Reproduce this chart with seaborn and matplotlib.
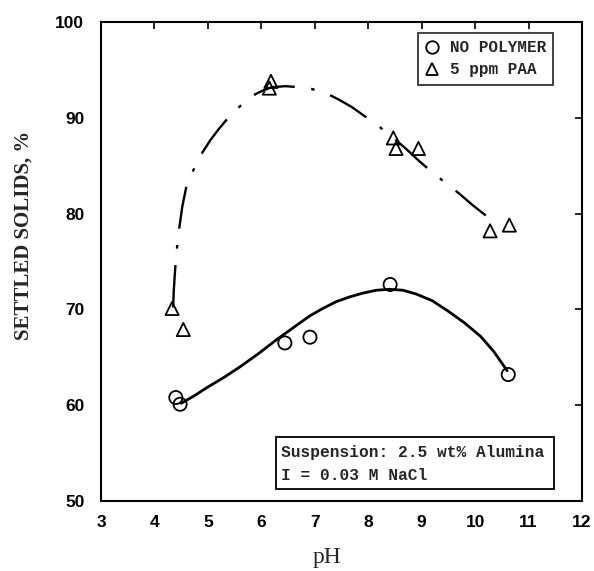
import numpy as np
import pandas as pd
import seaborn as sns
import matplotlib
matplotlib.use("Agg")
import matplotlib.pyplot as plt
from matplotlib.lines import Line2D
from matplotlib.patches import Rectangle

# --- data ---
ph_nopoly = [4.40, 4.48, 6.44, 6.91, 8.41, 10.62]
ss_nopoly = [60.8, 60.1, 66.5, 67.1, 72.6, 63.2]

ph_paa = [4.33, 4.54, 6.15, 6.18, 8.47, 8.52, 8.94, 10.28, 10.64]
ss_paa = [70.1, 67.9, 93.1, 93.8, 87.9, 86.8, 86.8, 78.2, 78.8]

curve_nopoly_ph = [4.50, 4.75, 5.0, 5.3, 5.6, 5.95, 6.3, 6.6, 6.9, 7.15, 7.4, 7.65, 7.9,
                   8.15, 8.4, 8.65, 8.9, 9.2, 9.5, 9.8, 10.1, 10.35, 10.6]
curve_nopoly_ss = [60.2, 61.0, 61.9, 62.9, 64.0, 65.4, 66.9, 68.1, 69.3, 70.1, 70.8, 71.3, 71.7,
                   72.0, 72.1, 72.0, 71.6, 70.9, 69.8, 68.6, 67.2, 65.6, 63.6]

curve_paa_ph = [4.35, 4.36, 4.38, 4.41, 4.46, 4.52, 4.60, 4.75, 4.90, 5.05, 5.20, 5.35, 5.50,
                5.70, 5.90, 6.05, 6.20, 6.45, 6.70, 6.95, 7.20, 7.45, 7.70, 7.95, 8.20,
                8.45, 8.70, 8.95, 9.20, 9.45, 9.70, 9.95, 10.20]
curve_paa_ss = [70.2, 71.8, 73.6, 75.8, 78.3, 80.7, 82.9, 84.8, 86.4, 87.7, 88.8, 89.8, 90.7,
                91.7, 92.5, 92.9, 93.2, 93.3, 93.2, 93.0, 92.6, 91.9, 91.1, 90.1, 89.1,
                88.0, 86.8, 85.5, 84.3, 83.2, 82.1, 80.9, 79.8]

legend_labels = ["NO POLYMER", "5 ppm PAA"]
box_lines = ["Suspension: 2.5 wt% Alumina", "I = 0.03 M NaCl"]
x_ticks = [3, 4, 5, 6, 7, 8, 9, 10, 11, 12]
y_ticks = [50, 60, 70, 80, 90, 100]

sns.set_theme(style="white")
plt.rcParams['font.family'] = ['Liberation Sans', 'DejaVu Sans']

W, H = 594, 571
fig = plt.figure(figsize=(W / 100, H / 100), dpi=100)
ax = fig.add_axes([101 / W, 1 - 501 / H, 481 / W, 479 / H])

df_c1 = pd.DataFrame({"pH": curve_nopoly_ph, "ss": curve_nopoly_ss})
df_c2 = pd.DataFrame({"pH": curve_paa_ph, "ss": curve_paa_ss})
sns.lineplot(data=df_c1, x="pH", y="ss", ax=ax, color="black", lw=2.0,
             sort=False, estimator=None)
sns.lineplot(data=df_c2, x="pH", y="ss", ax=ax, color="black", lw=1.7,
             sort=False, estimator=None)
ax.lines[-1].set_dashes((18, 7, 1.5, 7))

df_p1 = pd.DataFrame({"pH": ph_nopoly, "ss": ss_nopoly})
df_p2 = pd.DataFrame({"pH": ph_paa, "ss": ss_paa})
sns.scatterplot(data=df_p1, x="pH", y="ss", ax=ax, marker="o", s=90,
                facecolor="none", edgecolor="black", linewidth=1.3, zorder=3)
sns.scatterplot(data=df_p2, x="pH", y="ss", ax=ax, marker="^", s=90,
                facecolor="none", edgecolor="black", linewidth=1.3, zorder=3)

ax.set_xlim(3, 12)
ax.set_ylim(50, 100)
ax.set_xticks(x_ticks)
ax.set_yticks(y_ticks)
ax.tick_params(direction="in", length=5, width=1.2, top=True, right=True,
               labelsize=12.5, colors="black")
ax.tick_params(axis="y", pad=12)
ax.tick_params(axis="x", pad=10)
for lab in ax.get_xticklabels() + ax.get_yticklabels():
    lab.set_fontweight("bold")
for sp in ax.spines.values():
    sp.set_visible(True)
    sp.set_color("black")
    sp.set_linewidth(1.5)

ax.set_xlabel("pH", fontsize=17, family=["Liberation Serif"])
ax.set_ylabel("SETTLED SOLIDS, %", fontsize=15, fontweight="bold",
              family=["Liberation Serif"])
ax.xaxis.set_label_coords(0.47, -0.095)
ax.yaxis.set_label_coords(-0.14, 0.555)

handles = [
    Line2D([], [], ls="none", marker="o", ms=9, mfc="none", mec="black", mew=1.3),
    Line2D([], [], ls="none", marker="^", ms=9, mfc="none", mec="black", mew=1.3),
]
leg = ax.legend(handles, legend_labels, loc="upper right",
                bbox_to_anchor=((553 - 101) / 481, (501 - 33) / 479),
                frameon=True, fancybox=False, edgecolor="black",
                handlelength=0.8, handletextpad=0.7, borderpad=0.45,
                labelspacing=0.45, borderaxespad=0.0,
                prop={"family": ["Liberation Mono"], "weight": "bold", "size": 11.5})
leg.get_frame().set_linewidth(1.3)

# annotation box
x0 = 3 + (276 - 101) / 53.45
x1 = 3 + (554 - 101) / 53.45
y1 = 100 - (437 - 22) / 9.58
y0 = 100 - (489 - 22) / 9.58
ax.add_patch(Rectangle((x0, y0), x1 - x0, y1 - y0, fill=False,
                       edgecolor="black", lw=1.3, zorder=4))
ax.text(x0 + 0.1, 100 - (453 - 22) / 9.58, box_lines[0], va="center", ha="left",
        fontsize=11.7, fontweight="bold", family=["Liberation Mono"], zorder=5)
ax.text(x0 + 0.1, 100 - (476 - 22) / 9.58, box_lines[1], va="center", ha="left",
        fontsize=11.7, fontweight="bold", family=["Liberation Mono"], zorder=5)

fig.savefig("out.png", dpi=100)
